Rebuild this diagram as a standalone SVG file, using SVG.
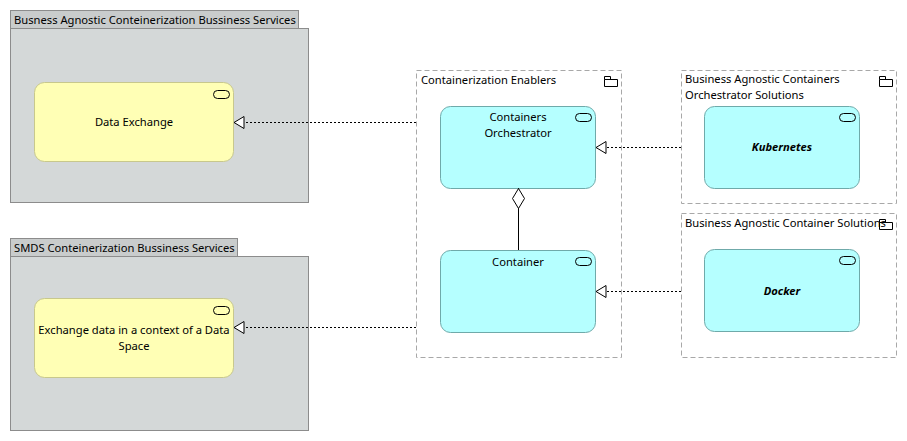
<svg xmlns="http://www.w3.org/2000/svg" width="907" height="441" viewBox="0 0 907 441">
<style>
text{font-family:"Segoe UI","Noto Sans","Liberation Sans",sans-serif;font-size:11.2px;fill:#000}
.grp-tab{fill:#c9cccc;stroke:#8c8c8c;stroke-width:1}
.grp-body{fill:#d4d8d8;stroke:#8c8c8c;stroke-width:1}
.dgrp{fill:none;stroke:#a8a8a8;stroke-width:1;stroke-dasharray:5,3}
.svc-y{fill:#ffffb5;stroke:#c8c88c;stroke-width:1}
.svc-c{fill:#b5ffff;stroke:#6faaaa;stroke-width:1}
.icon{fill:none;stroke:#000;stroke-width:1}
.conn{fill:none;stroke:#000;stroke-width:1;stroke-dasharray:2,2}
.solid{fill:none;stroke:#000;stroke-width:1}
.c{text-anchor:middle}
.bi{font-weight:bold;font-style:italic}
</style>
<defs>
<marker id="real" markerWidth="12" markerHeight="14" refX="11" refY="7" orient="auto" markerUnits="userSpaceOnUse">
<path d="M11,7 L1,1 L1,13 Z" fill="#fff" stroke="#000" stroke-width="1"/>
</marker>
<marker id="agg" markerWidth="14" markerHeight="24" refX="7" refY="0" orient="0" markerUnits="userSpaceOnUse">
<path d="M7,0.5 L13,10.5 L7,20.5 L1,10.5 Z" fill="#fff" stroke="#000" stroke-width="1"/>
</marker>
<g id="svcIcon"><rect x="0" y="0" width="16" height="8" rx="4" ry="4" class="icon"/></g>
<g id="folderIcon"><path d="M0.5,3.5 H13.5 V10.5 H0.5 Z M0.5,3.5 V0.5 H6.5 V3.5" class="icon"/></g>
</defs>

<g id="group-busness-agnostic">
<rect x="10.5" y="10.5" width="288" height="18" class="grp-tab"/>
<rect x="10.5" y="28.5" width="298" height="174" class="grp-body"/>
<text x="14" y="23.5">Busness Agnostic Conteinerization Bussiness Services</text>
</g>

<g id="group-smds">
<rect x="10.5" y="238.5" width="227" height="18" class="grp-tab"/>
<rect x="10.5" y="256.5" width="298" height="174" class="grp-body"/>
<text x="14" y="251.5">SMDS Conteinerization Bussiness Services</text>
</g>

<g id="group-containerization-enablers">
<rect x="416.5" y="70.5" width="205" height="287" class="dgrp"/>
<text x="421" y="83.5">Containerization Enablers</text>
<use href="#folderIcon" x="604" y="76"/>
</g>

<g id="group-orchestrator-solutions">
<rect x="681.5" y="70.5" width="215" height="133" class="dgrp"/>
<text x="685" y="83">Business Agnostic Containers</text>
<text x="685" y="98.5">Orchestrator Solutions</text>
<use href="#folderIcon" x="879" y="76"/>
</g>

<g id="group-container-solutions">
<rect x="681.5" y="213.5" width="215" height="144" class="dgrp"/>
<text x="685" y="226.5">Business Agnostic Container Solutions</text>
<use href="#folderIcon" x="879" y="219"/>
</g>

<g id="node-data-exchange">
<rect x="34.5" y="82.5" width="199" height="79" rx="10" ry="10" class="svc-y"/>
<use href="#svcIcon" x="213.5" y="90.5"/>
<text x="134" y="126" class="c">Data Exchange</text>
</g>

<g id="node-exchange-data-space">
<rect x="34.5" y="298.5" width="199" height="79" rx="10" ry="10" class="svc-y"/>
<use href="#svcIcon" x="213.5" y="306.5"/>
<text x="134" y="334" class="c">Exchange data in a context of a Data</text>
<text x="134" y="350" class="c">Space</text>
</g>

<g id="node-containers-orchestrator">
<rect x="440.5" y="106.5" width="155" height="82" rx="10" ry="10" class="svc-c"/>
<use href="#svcIcon" x="575.5" y="113.5"/>
<text x="518" y="121" class="c">Containers</text>
<text x="518" y="136.5" class="c">Orchestrator</text>
</g>

<g id="node-container">
<rect x="440.5" y="250.5" width="155" height="82" rx="10" ry="10" class="svc-c"/>
<use href="#svcIcon" x="575.5" y="257.5"/>
<text x="518" y="266" class="c">Container</text>
</g>

<g id="node-kubernetes">
<rect x="704.5" y="106.5" width="155" height="82" rx="10" ry="10" class="svc-c"/>
<use href="#svcIcon" x="839.5" y="113.5"/>
<text x="782" y="151" class="c bi">Kubernetes</text>
</g>

<g id="node-docker">
<rect x="704.5" y="249.5" width="155" height="82" rx="10" ry="10" class="svc-c"/>
<use href="#svcIcon" x="839.5" y="256.5"/>
<text x="782" y="295" class="c bi">Docker</text>
</g>

<g id="connectors">
<path d="M416,122.5 H234" class="conn" marker-end="url(#real)"/>
<path d="M416,327.5 H234" class="conn" marker-end="url(#real)"/>
<path d="M681,147.5 H596" class="conn" marker-end="url(#real)"/>
<path d="M681,291.5 H596" class="conn" marker-end="url(#real)"/>
<path d="M518.5,250 V188" class="solid" marker-end="url(#agg)"/>
</g>
</svg>
